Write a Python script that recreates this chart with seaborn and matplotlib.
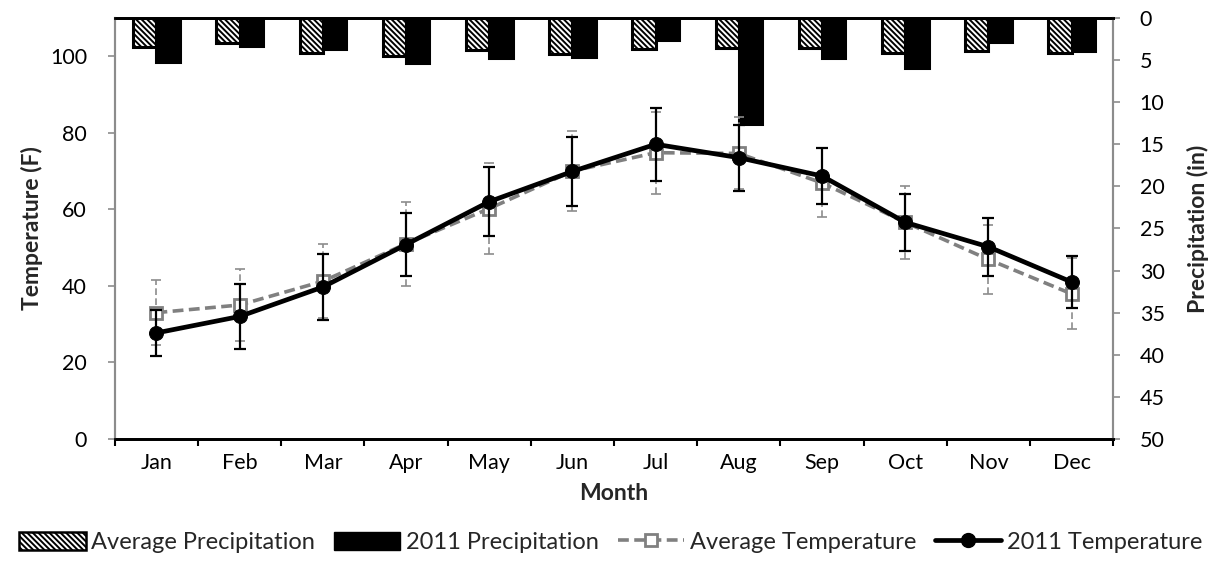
import matplotlib
matplotlib.use("Agg")
import matplotlib.pyplot as plt
from matplotlib.patches import Patch
from matplotlib.lines import Line2D
from matplotlib.ticker import FixedLocator
import seaborn as sns
import pandas as pd
import numpy as np

months = ["Jan", "Feb", "Mar", "Apr", "May", "Jun",
          "Jul", "Aug", "Sep", "Oct", "Nov", "Dec"]

# Monthly temperature (F) with spread
avg_temp = [33.0, 35.0, 41.2, 51.0, 60.2, 70.0, 74.8, 74.6, 66.9, 56.6, 46.9, 37.9]
avg_temp_err = [8.5, 9.5, 9.7, 11.0, 12.0, 10.5, 10.7, 9.4, 9.0, 9.5, 9.1, 9.3]
temp_2011 = [27.7, 32.0, 39.7, 50.8, 62.0, 69.9, 77.0, 73.5, 68.7, 56.6, 50.2, 41.0]
temp_2011_err = [6.0, 8.5, 8.6, 8.2, 9.0, 9.0, 9.5, 8.6, 7.2, 7.5, 7.5, 6.7]

# Monthly precipitation (in)
avg_precip = [3.4, 3.0, 4.1, 4.5, 3.8, 4.3, 3.7, 3.6, 3.6, 4.1, 3.9, 4.1]
precip_2011 = [5.2, 3.3, 3.7, 5.3, 4.7, 4.6, 2.6, 12.6, 4.7, 5.9, 2.9, 3.9]

series_names = ["Average Precipitation", "2011 Precipitation",
                "Average Temperature", "2011 Temperature"]

TICK_FS = 15.5
LABEL_FS = 16.5
HATCH = "\\\\\\\\\\\\"

sns.set_theme(style="white")
plt.rcParams["font.family"] = ["Lato", "DejaVu Sans"]
plt.rcParams["hatch.linewidth"] = 1.4

fig = plt.figure(figsize=(12.22, 5.62), dpi=100)
ax = fig.add_axes([0.094, 0.219, 0.817, 0.749])
ax2 = ax.twinx()

pos = np.arange(len(months))

# Precipitation bars hanging from the top on an inverted axis
precip_df = pd.DataFrame({
    "pos": np.concatenate([pos, pos]),
    "precip": avg_precip + precip_2011,
    "series": [series_names[0]] * 12 + [series_names[1]] * 12,
})
sns.barplot(data=precip_df, x="pos", y="precip", hue="series",
            hue_order=series_names[:2],
            palette={series_names[0]: "white", series_names[1]: "black"},
            width=0.56, dodge=True, edgecolor="black", linewidth=2.2,
            legend=False, ax=ax2, native_scale=True, saturation=1)
for bar in ax2.patches[:12]:
    bar.set_hatch(HATCH)
ax2.set_ylim(50, 0)
ax2.set_yticks(np.arange(0, 51, 5))
ax2.set_ylabel("Precipitation (in)", fontsize=LABEL_FS, fontweight="bold",
               labelpad=16)
ax2.yaxis.set_label_position("right")

# Temperature: error bars and lines
eb = ax.errorbar(pos, avg_temp, yerr=avg_temp_err, fmt="none",
                 ecolor="#8c8c8c", elinewidth=1.2, capsize=3.5, capthick=1.2,
                 zorder=3)
eb[2][0].set_linestyle((0, (4, 2)))
sns.lineplot(x=pos, y=avg_temp, ax=ax, color="#808080", linewidth=2.6,
             linestyle=(0, (3, 1.5)), marker="s", markersize=9,
             markerfacecolor="white", markeredgecolor="#808080",
             markeredgewidth=2.0, zorder=4)
ax.errorbar(pos, temp_2011, yerr=temp_2011_err, fmt="none", ecolor="black",
            elinewidth=1.6, capsize=4, capthick=1.6, zorder=5)
sns.lineplot(x=pos, y=temp_2011, ax=ax, color="black", linewidth=3.4,
             marker="o", markersize=10, markeredgecolor="black", zorder=6)

ax.set_zorder(ax2.get_zorder() + 1)
ax.patch.set_visible(False)

ax.set_ylim(0, 110)
ax.set_yticks(np.arange(0, 101, 20))
ax.set_xlim(-0.5, 11.5)
ax.set_xticks(pos)
ax.set_xticklabels(months)
ax.xaxis.set_minor_locator(FixedLocator(np.arange(-0.5, 12, 1)))
ax.tick_params(axis="x", which="major", length=0, pad=10, labelsize=TICK_FS,
               colors="black")
ax.tick_params(axis="x", which="minor", length=5, width=1.5, color="black",
               direction="out", bottom=True)
ax.tick_params(axis="y", length=5, width=1.2, color="#8c8c8c",
               labelsize=TICK_FS, labelcolor="black", left=True, pad=15)
ax2.tick_params(axis="y", length=5, width=1.2, color="#8c8c8c",
                labelsize=TICK_FS, labelcolor="black", right=True, pad=14)

ax.set_xlabel("Month", fontsize=LABEL_FS, fontweight="bold", labelpad=7)
ax.set_ylabel("Temperature (F)", fontsize=LABEL_FS, fontweight="bold",
              labelpad=5)

for a in (ax, ax2):
    a.spines["left"].set_color("#8c8c8c")
    a.spines["right"].set_color("#8c8c8c")
    a.spines["left"].set_linewidth(1.5)
    a.spines["right"].set_linewidth(1.5)
    a.spines["bottom"].set_color("black")
    a.spines["bottom"].set_linewidth(2.0)
    a.spines["top"].set_color("black")
    a.spines["top"].set_linewidth(2.0)
    a.grid(False)

handles = [
    Patch(facecolor="white", edgecolor="black", hatch=HATCH, linewidth=1.8),
    Patch(facecolor="black", edgecolor="black"),
    Line2D([], [], color="#808080", linewidth=2.6, linestyle=(0, (3, 1.5)),
           marker="s", markersize=9, markerfacecolor="white",
           markeredgecolor="#808080", markeredgewidth=2.0),
    Line2D([], [], color="black", linewidth=3.4, marker="o",
           markersize=10),
]
fig.legend(handles, series_names, loc="lower center", ncol=4,
           bbox_to_anchor=(0.5, -0.022), frameon=False, fontsize=17,
           handlelength=2.8, handleheight=0.8, handletextpad=0.25,
           columnspacing=0.8)

fig.savefig("out.png", dpi=100)
